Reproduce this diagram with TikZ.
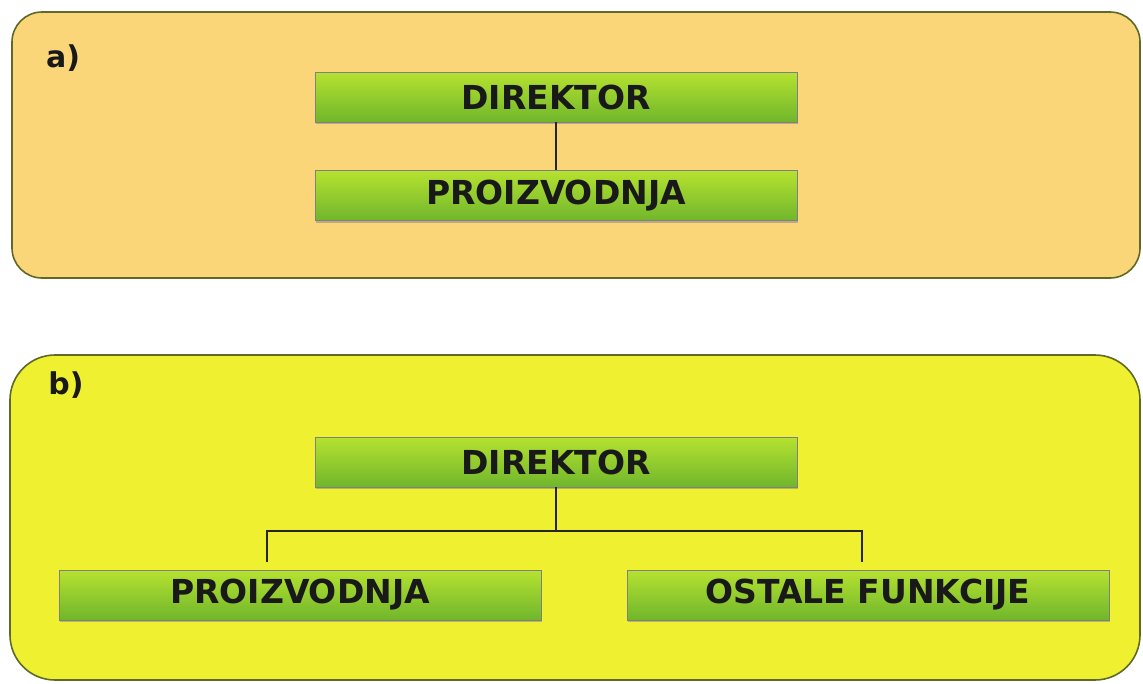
\documentclass[tikz,border=0pt]{standalone}
\usepackage{fontspec}
\setmainfont{DejaVu Sans}
\usetikzlibrary{positioning,shadows}
\definecolor{panelA}{RGB}{250,214,120}
\definecolor{panelB}{RGB}{238,240,48}
\definecolor{rim}{RGB}{95,105,40}
\definecolor{boxtop}{RGB}{182,226,48}
\definecolor{boxbot}{RGB}{112,182,44}

\tikzset{
  panel/.style={draw=rim, line width=1.6pt},
  unit/.style={rectangle, minimum width=482pt, minimum height=50pt, inner sep=0pt,
    top color=boxtop, bottom color=boxbot, draw=black!50, line width=0.6pt,
    drop shadow={shadow xshift=1pt, shadow yshift=-2pt, opacity=0.5},
    font=\fontsize{33}{38}\selectfont\bfseries, text=black!90},
  link/.style={line width=2.2pt, black!85},
  tag/.style={font=\fontsize{30}{35}\selectfont\bfseries, text=black!90}
}

\begin{document}
\begin{tikzpicture}[x=1pt, y=-1pt]
\useasboundingbox (0,0) rectangle (1143,683);

\draw[panel, fill=panelA, rounded corners=30pt] (12,12) rectangle (1140,278);
\node[tag] (taga) at (63,58) {a)};
\node[unit] (dira) at (556,97) {DIREKTOR};
\node[unit, below=48pt of dira] (proiza) {PROIZVODNJA};
\draw[link] (dira) -- (proiza);

\draw[panel, fill=panelB, rounded corners=45pt] (10,355) rectangle (1140,680);
\node[tag] (tagb) at (66,385) {b)};
\node[unit] (dirb) at (556,462) {DIREKTOR};
\node[unit] (proizb) at (300,595) {PROIZVODNJA};
\node[unit] (ostb) at (868,595) {OSTALE FUNKCIJE};
\coordinate (fork) at ([yshift=-44pt]dirb.south);
\draw[link] (dirb) -- (fork);
\draw[link, shorten >=8pt] (fork) -| ([xshift=-33pt]proizb.north);
\draw[link, shorten >=8pt] (fork) -| ([xshift=-6pt]ostb.north);
\end{tikzpicture}
\end{document}
